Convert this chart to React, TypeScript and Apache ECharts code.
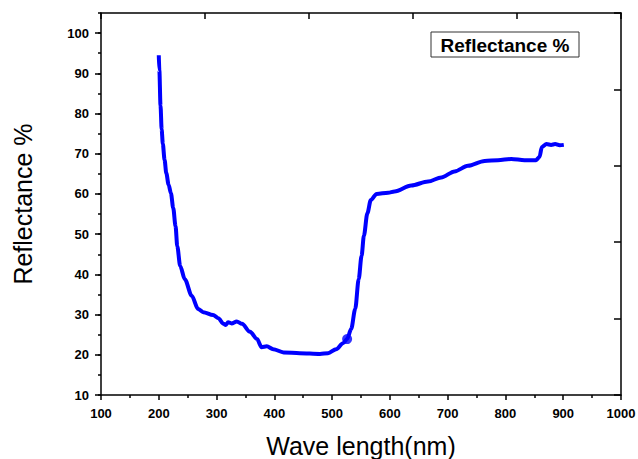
import React, { useEffect, useRef } from "react";
import * as echarts from "echarts";

const wavelength = [200, 201, 203, 205, 207, 210, 213, 217, 221, 225, 229, 232, 237, 245, 257, 268, 277, 294, 303, 312, 316, 320, 326, 335, 344, 358, 370, 378, 387, 398, 416, 444, 479, 493, 507, 519, 526, 533, 540, 546, 551, 555, 561, 567, 577, 597, 608, 637, 666, 689, 712, 735, 764, 787, 810, 833, 853, 859, 863, 871, 879, 886, 894, 901];
const reflectance = [94.5, 90.8, 82.0, 76.0, 72.5, 68.5, 65.2, 62.3, 60.2, 56.5, 52.0, 47.0, 42.1, 38.8, 34.7, 31.4, 30.6, 29.9, 29.1, 27.7, 27.4, 28.1, 27.8, 28.3, 27.7, 25.7, 23.9, 21.9, 22.1, 21.4, 20.6, 20.4, 20.2, 20.4, 21.4, 22.9, 23.9, 26.4, 31.4, 38.8, 44.6, 49.6, 55.2, 58.5, 60.0, 60.3, 60.6, 62.1, 63.1, 64.1, 65.6, 67.0, 68.2, 68.4, 68.7, 68.4, 68.4, 69.2, 71.7, 72.4, 72.2, 72.4, 72.1, 72.2];
const dotPoint = [526, 23.9];

const seriesName = "Reflectance %";
const xTitle = "Wave length(nm)";
const yTitle = "Reflectance %";

export default function App() {
  const ref = useRef<HTMLDivElement>(null);
  useEffect(() => {
    if (!ref.current) return;
    const chart = echarts.init(ref.current, null, { renderer: "svg" });
    const font = "'Liberation Sans', Arial, sans-serif";
    const lineStyle = { color: "#000", width: 1.5 };
    chart.setOption({
      animation: false,
      backgroundColor: "#fff",
      grid: { left: 101, right: 17, top: 13, bottom: 64, containLabel: false, outerBoundsMode: "none" },
      xAxis: [
        {
          type: "value",
          min: 100,
          max: 1000,
          interval: 100,
          position: "bottom",
          name: xTitle,
          nameLocation: "middle",
          nameGap: 38,
          nameTextStyle: { fontFamily: font, fontSize: 25, color: "#000" },
          axisLine: { lineStyle },
          axisTick: { length: 5, lineStyle },
          minorTick: { show: true, splitNumber: 2, length: 3, lineStyle },
          axisLabel: {
            margin: 12,
            fontFamily: font,
            fontSize: 13,
            fontWeight: "bold",
            color: "#000",
            formatter: (v: number) => String(v),
          },
          splitLine: { show: false },
          minorSplitLine: { show: false },
        },
        {
          type: "value",
          min: 0,
          max: 5,
          interval: 1,
          position: "top",
          axisLine: { show: true, lineStyle },
          axisTick: { show: true, inside: true, length: 6, lineStyle },
          axisLabel: { show: false },
          splitLine: { show: false },
        },
      ],
      yAxis: [
        {
          type: "value",
          min: 10,
          max: 105,
          interval: 10,
          position: "left",
          name: yTitle,
          nameLocation: "middle",
          nameGap: 66,
          nameTextStyle: { fontFamily: font, fontSize: 25, color: "#000" },
          axisLine: { show: true, lineStyle },
          axisTick: { show: true, length: 6, lineStyle },
          axisLabel: {
            margin: 12,
            fontFamily: font,
            fontSize: 13,
            fontWeight: "bold",
            color: "#000",
            showMaxLabel: false,
          },
          splitLine: { show: false },
        },
        {
          type: "value",
          min: 10,
          max: 105,
          interval: 5,
          position: "left",
          axisLine: { show: false },
          axisTick: { show: true, length: 3, lineStyle },
          axisLabel: { show: false },
          splitLine: { show: false },
        },
        {
          type: "value",
          min: 0,
          max: 5,
          interval: 1,
          position: "right",
          axisLine: { show: true, lineStyle },
          axisTick: { show: true, inside: true, length: 7, lineStyle },
          axisLabel: { show: false },
          splitLine: { show: false },
        },
      ],
      series: [
        {
          name: seriesName,
          type: "line",
          xAxisIndex: 0,
          yAxisIndex: 0,
          data: wavelength.map((w, i) => [w, reflectance[i]]),
          showSymbol: false,
          smooth: 0.3,
          smoothMonotone: "x",
          lineStyle: { color: "#0000ff", width: 4 },
          itemStyle: { color: "#0000ff" },
        },
        {
          name: seriesName,
          type: "scatter",
          xAxisIndex: 0,
          yAxisIndex: 0,
          data: [dotPoint],
          symbol: "circle",
          symbolSize: 10,
          itemStyle: { color: "#0000ff" },
        },
      ],
      graphic: [
        {
          type: "rect",
          shape: { x: 431, y: 32, width: 148, height: 25 },
          style: { fill: "#fff", stroke: "#333", lineWidth: 1 },
          z: 100,
        },
        {
          type: "text",
          x: 505,
          y: 45,
          style: {
            text: seriesName,
            fontFamily: font,
            fontSize: 19,
            fontWeight: "bold",
            fill: "#000",
            align: "center",
            verticalAlign: "middle",
          },
          z: 101,
        },
      ],
    });
    return () => chart.dispose();
  }, []);
  return <div ref={ref} style={{ width: 638, height: 459, position: "absolute", left: 0, top: 0 }} />;
}
